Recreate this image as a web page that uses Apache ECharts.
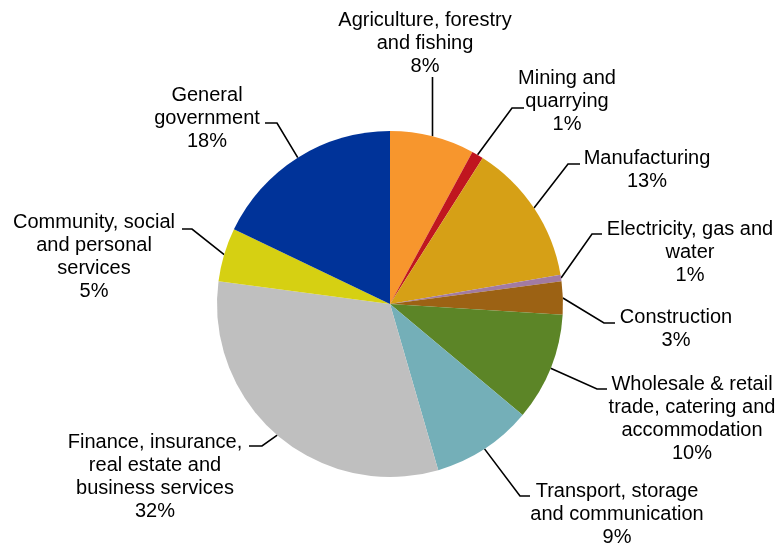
<!DOCTYPE html>
<html>
<head>
<meta charset="utf-8">
<script src="https://cdn.jsdelivr.net/npm/echarts@6/dist/echarts.min.js"></script>
<style>
  html, body { margin: 0; padding: 0; background: #fff; }
  #main { width: 777px; height: 545px; }
</style>
</head>
<body>
<div id="main"></div>
<script>
// sectors, clockwise from 12 o'clock
const sectors = [
  'Agriculture, forestry\nand fishing',
  'Mining and\nquarrying',
  'Manufacturing',
  'Electricity, gas and\nwater',
  'Construction',
  'Wholesale & retail\ntrade, catering and\naccommodation',
  'Transport, storage\nand communication',
  'Finance, insurance,\nreal estate and\nbusiness services',
  'Community, social\nand personal\nservices',
  'General\ngovernment'
]
// share of total, %
const shares = [7.9, 1.1, 13.3, 0.6, 3.1, 10.1, 9.4, 31.6, 5.0, 17.9]
const colors = ['#F7962D', '#C0161F', '#D6A016', '#A27BA2', '#9C6214',
  '#5C8527', '#74AFB8', '#BFBFBF', '#D6D012', '#003399']

// label placement: text centre x, first line centre y, leader bend, leader end
const labelAt = [
  [425, 20], [567, 78], [647, 158], [690, 229], [676, 317],
  [692, 384], [617, 491], [155, 442], [94, 222], [207, 95]
]
const leaderBend = [
  null, [512, 108], [568, 164], [592, 234], [604, 323],
  [597, 389], [520, 496], [262, 446], [192, 229], [277, 123]
]
const leaderEnd = [
  [null, 77], [524, 108], [580, 164], [602, 234], [615, 323],
  [607, 389], [530, 496], [249, 446], [182, 229], [265, 123]
]

const myChart = echarts.init(document.getElementById('main'))
myChart.setOption({
  animation: false,
  color: colors,
  series: [
    {
      type: 'pie',
      center: [390, 304],
      radius: 173,
      startAngle: 90,
      clockwise: true,
      percentPrecision: 0,
      avoidLabelOverlap: false,
      data: sectors.map((name, i) => ({ name: name, value: shares[i] })),
      label: {
        show: true,
        position: 'outside',
        formatter: '{b}\n{d}%',
        fontFamily: 'Liberation Sans, Arial, sans-serif',
        fontSize: 20,
        lineHeight: 23,
        color: '#000',
        align: 'center'
      },
      labelLine: {
        show: true,
        lineStyle: { color: '#000', width: 1.6 }
      },
      labelLayout: function (params) {
        const i = params.dataIndex
        const edge = params.labelLinePoints[0]
        const pts = [edge]
        if (leaderBend[i]) {
          pts.push(leaderBend[i])
          pts.push(leaderEnd[i])
        } else {
          pts.push([edge[0], leaderEnd[i][1]])
          pts.push([edge[0], leaderEnd[i][1]])
        }
        return {
          x: labelAt[i][0],
          y: labelAt[i][1] - 11.5,
          align: 'center',
          verticalAlign: 'top',
          labelLinePoints: pts
        }
      }
    }
  ]
})
</script>
</body>
</html>
